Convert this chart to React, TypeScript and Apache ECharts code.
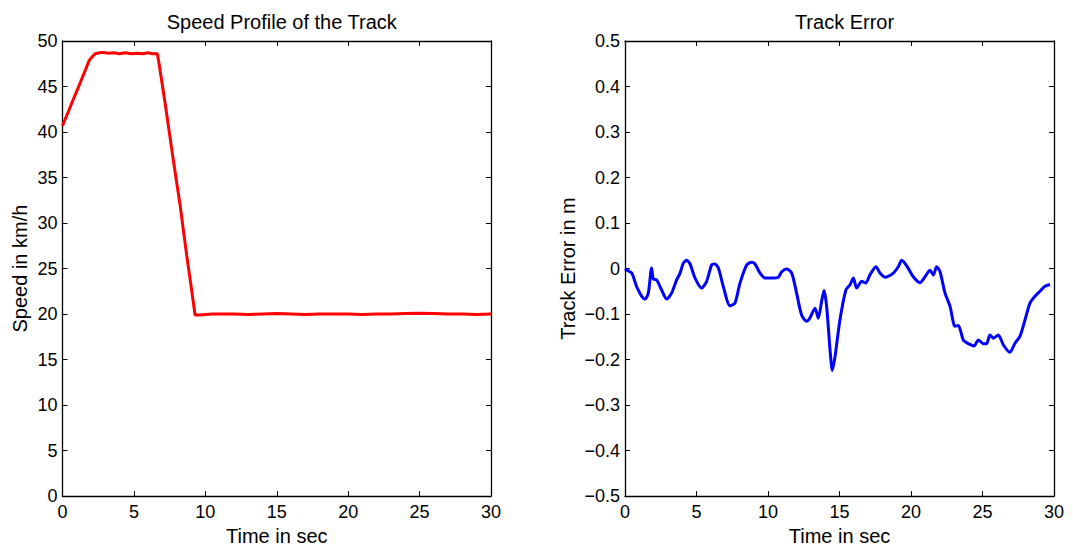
import React, { useEffect, useRef } from "react";
import * as echarts from "echarts";

const speedTime = [0, 0.4, 0.76, 1.0, 1.34, 1.6, 1.88, 2.1, 2.28, 2.6, 2.86, 3.2, 3.6, 4.0, 4.4, 4.8, 5.2, 5.6, 6.0, 6.3, 6.64, 6.78, 7.18, 7.76, 8.23, 8.7, 9.0, 9.28, 9.6, 10.5, 12, 13, 14, 15, 16, 17, 18, 19, 20, 21, 22, 23, 24, 25, 26, 27, 28, 29, 30];
const speedValue = [40.7, 42.2, 43.6, 44.5, 45.8, 46.8, 47.9, 48.3, 48.6, 48.7, 48.75, 48.65, 48.7, 48.6, 48.7, 48.6, 48.65, 48.6, 48.7, 48.6, 48.6, 47.3, 43.2, 36.9, 32.0, 26.4, 23.1, 19.9, 19.9, 20.0, 20.0, 19.95, 20.0, 20.05, 20.0, 19.95, 20.0, 20.0, 20.0, 19.95, 20.0, 20.0, 20.05, 20.1, 20.05, 20.0, 20.0, 19.95, 20.0];

const errorTime = [0, 0.12, 0.47, 0.82, 1.17, 1.4, 1.63, 1.86, 1.98, 2.21, 2.56, 2.91, 3.26, 3.61, 3.85, 4.08, 4.31, 4.55, 4.9, 5.36, 5.71, 6.06, 6.29, 6.53, 6.88, 7.34, 7.69, 8.04, 8.51, 8.86, 9.09, 9.44, 9.79, 10.26, 10.72, 10.96, 11.31, 11.66, 12.0, 12.35, 12.7, 12.94, 13.29, 13.52, 13.75, 13.92, 14.1, 14.34, 14.5, 14.69, 15.03, 15.45, 15.73, 15.97, 16.2, 16.55, 16.83, 17.13, 17.55, 17.83, 18.18, 18.76, 19.11, 19.35, 19.7, 20.16, 20.63, 20.98, 21.33, 21.56, 21.79, 22.03, 22.38, 22.73, 23.08, 23.31, 23.66, 24.01, 24.41, 24.71, 25.06, 25.29, 25.52, 25.76, 26.11, 26.46, 26.92, 27.27, 27.62, 27.97, 28.32, 28.67, 29.02, 29.37, 29.72];
const errorValue = [0.0, -0.003, -0.01, -0.04, -0.061, -0.067, -0.054, 0.001, -0.023, -0.025, -0.047, -0.067, -0.054, -0.025, -0.01, 0.012, 0.018, 0.01, -0.021, -0.043, -0.028, 0.008, 0.01, 0.001, -0.04, -0.082, -0.076, -0.032, 0.008, 0.014, 0.01, -0.01, -0.021, -0.021, -0.019, -0.007, -0.001, -0.01, -0.054, -0.102, -0.116, -0.108, -0.087, -0.109, -0.072, -0.048, -0.083, -0.179, -0.224, -0.193, -0.113, -0.047, -0.036, -0.021, -0.043, -0.028, -0.032, -0.014, 0.004, -0.01, -0.019, -0.01, 0.004, 0.018, 0.006, -0.018, -0.031, -0.018, -0.004, -0.014, 0.004, -0.007, -0.054, -0.083, -0.127, -0.125, -0.157, -0.165, -0.17, -0.157, -0.165, -0.165, -0.146, -0.153, -0.146, -0.168, -0.184, -0.164, -0.149, -0.113, -0.076, -0.061, -0.05, -0.039, -0.035];

const titles = ["Speed Profile of the Track", "Track Error"];
const xName = "Time in sec";
const yNames = ["Speed in km/h", "Track Error in m"];

const FONT = "'Liberation Sans', Arial, Helvetica, sans-serif";
const FS = 18;
const FS_NAME = 20;

export default function App() {
  const ref = useRef<HTMLDivElement>(null);
  useEffect(() => {
    if (!ref.current) return;
    const chart = echarts.init(ref.current, undefined, { renderer: "svg" });
    const axisLine = { show: true, onZero: false, lineStyle: { color: "#000", width: 1.3 } };
    const tick = { show: true, inside: true, length: 5, lineStyle: { color: "#000", width: 1 } };
    const label = { color: "#000", fontSize: FS, fontFamily: FONT };
    const nameStyle = { color: "#000", fontSize: FS_NAME, fontFamily: FONT };
    const fmtErr = (v: number) => {
      const r = Math.round(v * 10) / 10;
      if (r === 0) return "0";
      return String(r).replace("-", "\u2212");
    };
    const xMain = (gi: number) => ({
      type: "value", gridIndex: gi, min: 0, max: 30, interval: 5, position: "bottom",
      name: xName, nameLocation: "middle", nameGap: 26, nameTextStyle: nameStyle,
      axisLine, axisTick: tick, axisLabel: { ...label, margin: 7 }, splitLine: { show: false },
    });
    const xTop = (gi: number) => ({
      type: "value", gridIndex: gi, min: 0, max: 30, interval: 5, position: "top",
      axisLine, axisTick: tick, axisLabel: { show: false }, splitLine: { show: false },
    });
    const titleStyle = { color: "#000", fontSize: FS_NAME, fontWeight: "normal", fontFamily: FONT };
    chart.setOption({
      animation: false,
      backgroundColor: "#fff",
      title: [
        { text: titles[0], left: 276.75, top: 7, textAlign: "center", textStyle: titleStyle },
        { text: titles[1], left: 839.5, top: 7, textAlign: "center", textStyle: titleStyle },
      ],
      grid: [
        { left: 62.5, top: 41, width: 428.5, height: 455.5 },
        { left: 625, top: 41, width: 429, height: 455.5 },
      ],
      xAxis: [xMain(0), xTop(0), xMain(1), xTop(1)],
      yAxis: [
        {
          type: "value", gridIndex: 0, min: 0, max: 50, interval: 5, position: "left",
          name: yNames[0], nameLocation: "middle", nameGap: 33, nameTextStyle: nameStyle,
          axisLine, axisTick: tick, axisLabel: { ...label, margin: 5 }, splitLine: { show: false },
        },
        {
          type: "value", gridIndex: 0, min: 0, max: 50, interval: 5, position: "right",
          axisLine, axisTick: tick, axisLabel: { show: false }, splitLine: { show: false },
        },
        {
          type: "value", gridIndex: 1, min: -0.5, max: 0.5, interval: 0.1, position: "left",
          name: yNames[1], nameLocation: "middle", nameGap: 47, nameTextStyle: nameStyle,
          axisLine, axisTick: tick, axisLabel: { ...label, margin: 5, formatter: fmtErr }, splitLine: { show: false },
        },
        {
          type: "value", gridIndex: 1, min: -0.5, max: 0.5, interval: 0.1, position: "right",
          axisLine, axisTick: tick, axisLabel: { show: false }, splitLine: { show: false },
        },
      ],
      series: [
        {
          type: "line", xAxisIndex: 0, yAxisIndex: 0, showSymbol: false, symbol: "none",
          data: speedTime.map((t, i) => [t, speedValue[i]]),
          lineStyle: { color: "#ff0000", width: 3 }, itemStyle: { color: "#ff0000" },
        },
        {
          type: "line", xAxisIndex: 2, yAxisIndex: 2, showSymbol: false, symbol: "none", smooth: 0.25,
          data: errorTime.map((t, i) => [t, errorValue[i]]),
          lineStyle: { color: "#0000ff", width: 3 }, itemStyle: { color: "#0000ff" },
        },
      ],
    });
    return () => chart.dispose();
  }, []);
  return <div ref={ref} style={{ position: "fixed", left: 0, top: 0, width: 1073, height: 551 }} />;
}
